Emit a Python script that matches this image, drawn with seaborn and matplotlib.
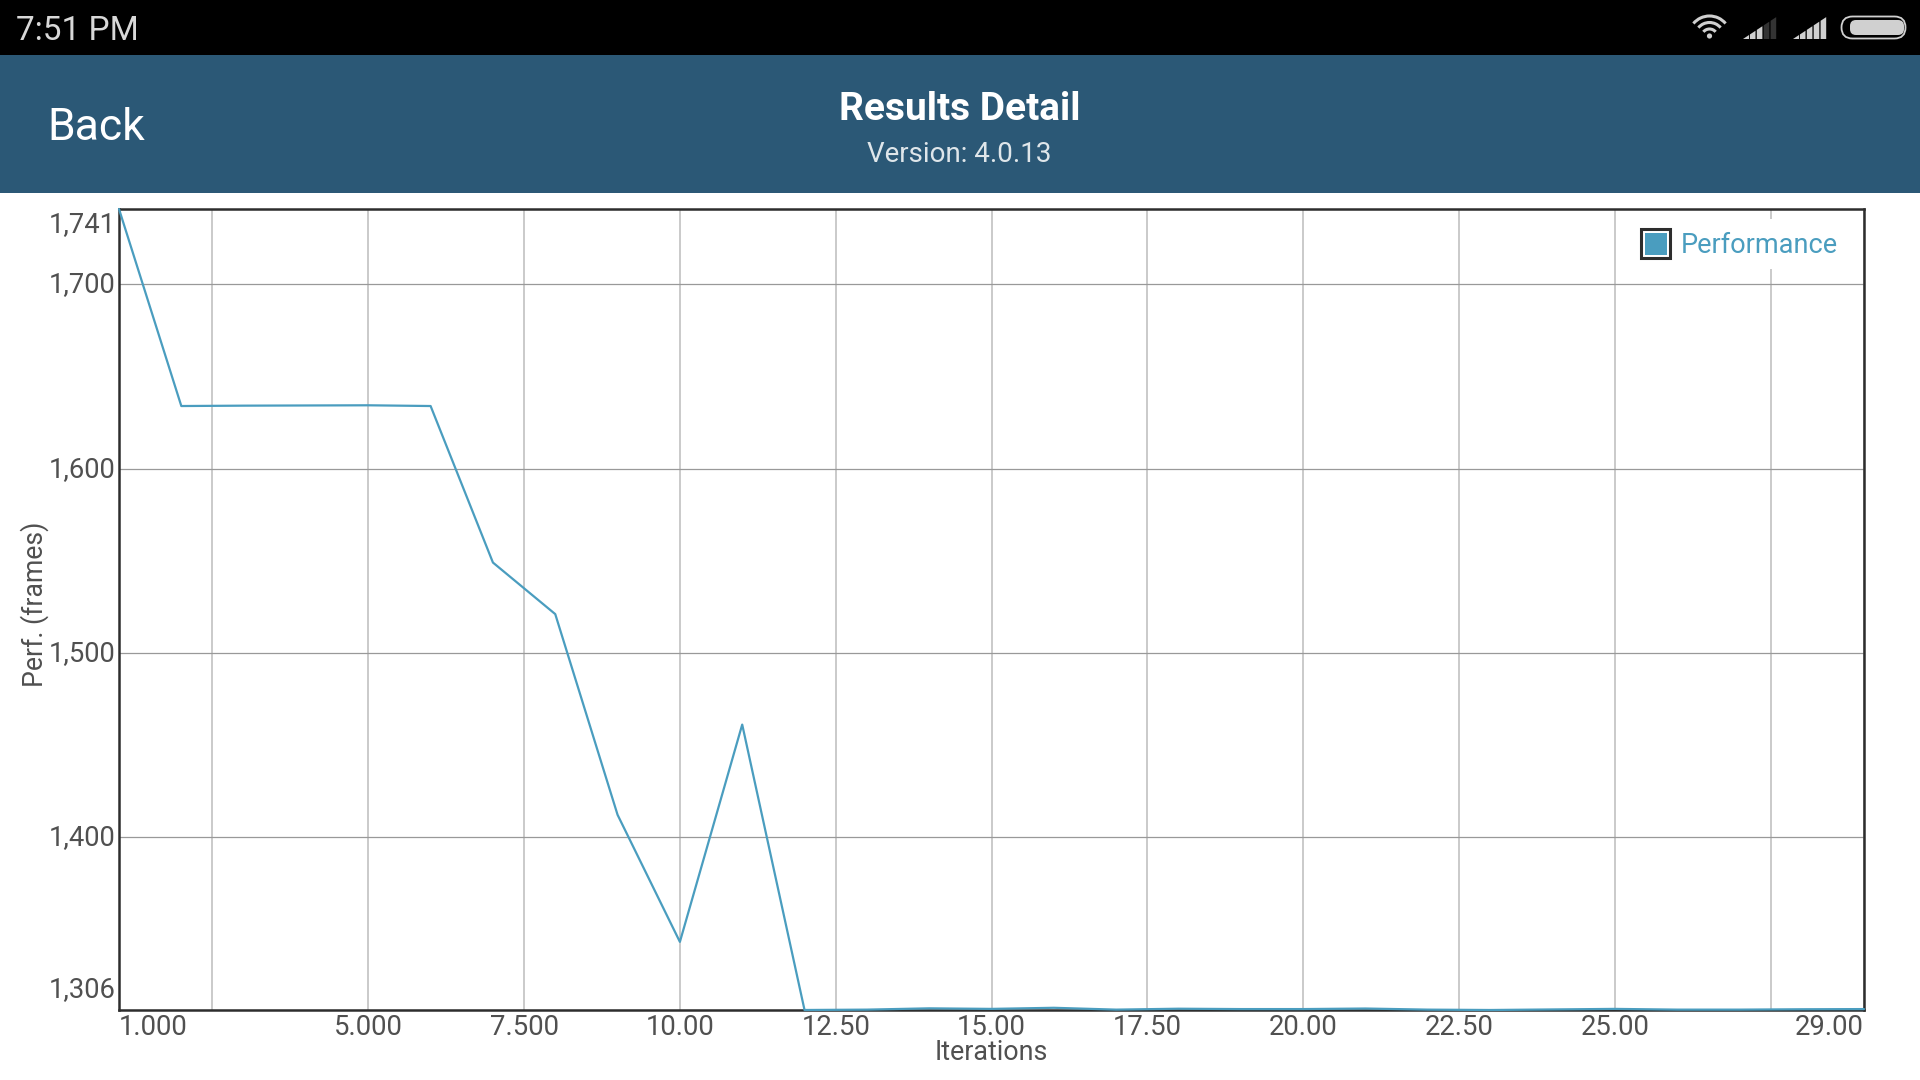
"""
plot.py - Results Detail screen: performance per iteration, seaborn line over a phone UI frame.
"""

import matplotlib
matplotlib.use("Agg")
import matplotlib.pyplot as plt
import pandas as pd
import seaborn as sns
from matplotlib.patches import Arc, Circle, FancyBboxPatch, Polygon, Rectangle
from matplotlib.transforms import ScaledTranslation

iterations = [1, 2, 3, 4, 5, 6, 7, 8, 9, 10, 11, 12, 13, 14, 15, 16, 17, 18, 19, 20,
              21, 22, 23, 24, 25, 26, 27, 28, 29]
frames = [1741, 1634, 1634.2, 1634.3, 1634.4, 1634, 1549, 1521, 1412, 1343, 1461, 1306,
          1306.2, 1306.9, 1306.6, 1307.2, 1306.2, 1306.7, 1306.5, 1306.5, 1306.8,
          1306.2, 1306.0, 1306.3, 1306.6, 1306.2, 1306.2, 1306.4, 1306.5]

x_ticks = [1, 2.5, 5, 7.5, 10, 12.5, 15, 17.5, 20, 22.5, 25, 27.5, 29]
x_labels = ["1.000", "", "5.000", "7.500", "10.00", "12.50", "15.00", "17.50",
            "20.00", "22.50", "25.00", "", "29.00"]
y_ticks = [1306, 1400, 1500, 1600, 1700, 1741]
y_labels = ["1,306", "1,400", "1,500", "1,600", "1,700", "1,741"]

BLUE = "#4a9dbf"
HEADER = "#2b5876"
TEXT = "#505050"
FRAME = "#2d2d2d"
W, H = 1920, 1080

sns.set_theme(style="white")
plt.rcParams["font.family"] = ["Roboto", "DejaVu Sans"]

fig = plt.figure(figsize=(19.2, 10.8), dpi=100, facecolor="white")
ax = fig.add_axes([119 / W, 1 - 1010 / H, (1864 - 119) / W, (1010 - 209) / H])

df = pd.DataFrame({"Iterations": iterations, "Perf": frames})
sns.lineplot(data=df, x="Iterations", y="Perf", color=BLUE, lw=1.6, ax=ax,
             clip_on=False, zorder=5)
ax.set_xlim(1, 29)
ax.set_ylim(1306, 1741)

ax.set_xticks(x_ticks)
ax.set_xticklabels(x_labels, fontsize=19.8, color=TEXT)
ax.set_yticks(y_ticks)
ax.set_yticklabels(y_labels, fontsize=19.7, color=TEXT)
ax.tick_params(axis="x", length=0, pad=3)
ax.tick_params(axis="y", length=0, pad=2.5)
ax.get_xticklabels()[0].set_ha("left")
ax.get_xticklabels()[-1].set_ha("right")

# end labels sit inside the axis range, the rest a touch above their gridline
y_shift = [6.5, 2.5, 2.5, 2.5, 2.5, -2.5]
for lab, dy in zip(ax.get_yticklabels(), y_shift):
    lab.set_transform(lab.get_transform() + ScaledTranslation(0, dy / 100, fig.dpi_scale_trans))
ax.get_yticklabels()[0].set_va("bottom")
ax.get_yticklabels()[-1].set_va("top")

ax.xaxis.grid(True, color="#c6c6c6", lw=1.3)
ax.yaxis.grid(True, color="#999999", lw=0.9)
ax.set_axisbelow(True)
for s in ax.spines.values():
    s.set_visible(True)
    s.set_color(FRAME)
    s.set_linewidth(1.8)
ax.set_xlabel("")
ax.set_ylabel("")

# everything outside the plot goes on a full-figure overlay in pixel coordinates
ui = fig.add_axes([0, 0, 1, 1], zorder=10)
ui.set_xlim(0, W)
ui.set_ylim(H, 0)
ui.axis("off")
ui.patch.set_alpha(0)

ui.add_patch(Rectangle((0, 0), W, 55, color="black", lw=0))
ui.add_patch(Rectangle((0, 55), W, 138, color=HEADER, lw=0))
ui.text(16, 31, "7:51 PM", color="#d8d8d8", fontsize=24, va="center")
ui.text(47, 128.5, "Back", color="white", fontsize=32, va="center")
ui.text(960, 109.5, "Results Detail", color="white", fontsize=28, weight="bold",
        ha="center", va="center")
ui.text(959, 154, "Version: 4.0.13", color="#dfe6ea", fontsize=20, ha="center", va="center")

# axis titles
ui.text(35, 604, "Perf. (frames)", color=TEXT, fontsize=19.2, rotation=90,
        ha="center", va="center")
ui.text(991, 1052, "Iterations", color=TEXT, fontsize=19.4, ha="center", va="center")

# legend
ui.add_patch(Rectangle((1625, 219), 221, 50, color="white", lw=0))
ui.add_patch(Rectangle((1641, 229), 29, 29, fc="white", ec=FRAME, lw=2.2))
ui.add_patch(Rectangle((1644.5, 232.5), 22, 22, color=BLUE, lw=0))
ui.text(1681, 245.5, "Performance", color=BLUE, fontsize=19.5, va="center")

# status bar icons
ICON = "#d0d0d0"
ui.add_patch(Circle((1709.5, 36), 2.6, color=ICON, lw=0))
for d in [16, 29, 42]:
    ui.add_patch(Arc((1709.5, 37), d, d, theta1=220, theta2=320, color=ICON, lw=2.2))


def signal(x0, bars_on):
    for i in range(5):
        left = x0 + i * 6.9
        col = ICON if i < bars_on else "#333333"
        top_l = 39 - (left - x0) * 0.66
        top_r = 39 - (left + 5.6 - x0) * 0.66
        ui.add_patch(Polygon([(left, 39), (left + 5.6, 39), (left + 5.6, top_r), (left, top_l)],
                             color=col, lw=0))


signal(1743, 3)
signal(1793, 5)
ui.add_patch(FancyBboxPatch((1841.5, 16.5), 64, 22, boxstyle="round,pad=0,rounding_size=11",
                            fc="none", ec=ICON, lw=1.3))
ui.add_patch(FancyBboxPatch((1850, 20), 54, 15, boxstyle="round,pad=0,rounding_size=6",
                            color=ICON, lw=0))

fig.savefig("out.png", dpi=100)
